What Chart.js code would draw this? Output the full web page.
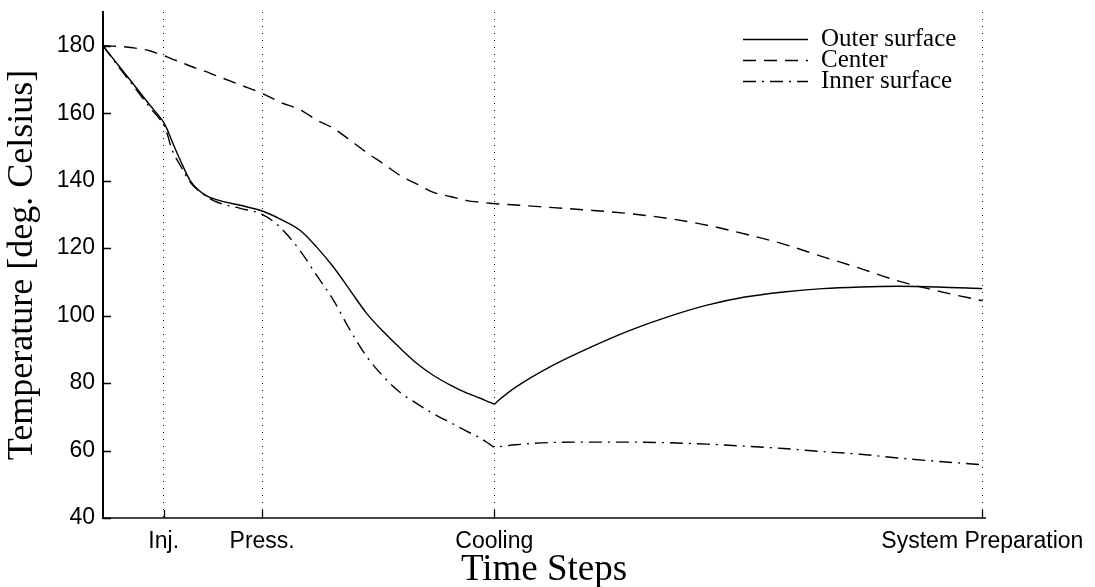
<!DOCTYPE html>
<html>
<head>
<meta charset="utf-8">
<script src="https://cdn.jsdelivr.net/npm/chart.js@4.4.0/dist/chart.umd.min.js"></script>
<style>
    html, body { margin: 0; padding: 0; background: #fff; }
    #wrap { width: 1095px; height: 587px; position: relative; }
</style>
</head>
<body>
<div id="wrap"><canvas id="temp-chart"></canvas></div>
<script>
// time axis, 0..100 of the cycle
const timeSteps = [0, 1.9, 3.4, 5.3, 6.6, 6.9, 7.3, 7.8, 8.8, 9.9, 11.4, 13.0, 15.6, 18.1, 20.1, 22.4, 24.3, 26.2, 28.1, 30.0, 31.9, 33.8, 35.7, 37.5, 39.5, 41.4, 42.9, 44.0, 44.5, 44.9, 46.9, 51.2, 55.6, 60.0, 64.3, 68.7, 73.0, 77.4, 81.8, 86.1, 90.4, 94.9, 100];
const outerSurface = [180, 173.7, 168.8, 162.5, 158.4, 157.3, 155.2, 152, 146, 140.1, 136.1, 134.3, 132.7, 131.0, 128.7, 125.3, 120.3, 114.4, 107.5, 100.6, 95.2, 90.3, 85.8, 82.4, 79.4, 77.0, 75.5, 74.3, 73.8, 74.7, 78.7, 85.3, 90.8, 95.7, 99.7, 103.1, 105.5, 107.0, 108.0, 108.5, 108.7, 108.5, 108.0];
const center = [180, 179.8, 179.4, 178.5, 177.3, 177.0, 176.7, 176.1, 175.2, 174.0, 172.6, 171.0, 168.4, 165.9, 163.3, 161.0, 158.0, 155.5, 152.0, 148.3, 145.0, 141.5, 139.0, 136.6, 135.3, 134.1, 133.6, 133.3, 133.2, 133.1, 132.8, 132.0, 131.2, 130.2, 128.8, 126.8, 124.2, 121.2, 117.5, 114.0, 110.3, 107.3, 104.4];
const innerSurface = [180, 173.3, 168.3, 161.8, 157.8, 156.6, 153.9, 149.5, 144.5, 139.6, 136.0, 133.6, 131.8, 130.0, 126.3, 119.3, 111.9, 104.6, 95.7, 87.8, 81.9, 77.2, 73.9, 71.0, 68.3, 65.7, 63.7, 61.8, 61.0, 61.1, 61.7, 62.4, 62.5, 62.5, 62.3, 61.9, 61.3, 60.6, 59.7, 58.9, 57.8, 56.8, 55.8];

const stepTicks = [6.9, 18.1, 44.5, 100];
const stepLabels = ["Inj.", "Press.", "Cooling", "System Preparation"];
const tempTicks = [40, 60, 80, 100, 120, 140, 160, 180];
const seriesNames = ["Outer surface", "Center", "Inner surface"];

function toPoints(values) {
    return timeSteps.map((t, i) => ({ x: t, y: values[i] }));
}

const tickFont = { family: '"Liberation Sans", Arial, sans-serif', size: 23 };
const serif = '"Liberation Serif", "Times New Roman", serif';

// matlab style tick marks pointing into the plot
const innerTicks = {
    id: "innerTicks",
    afterDraw(chart) {
        const { ctx, chartArea, scales } = chart;
        ctx.save();
        ctx.strokeStyle = "#000";
        ctx.lineWidth = 1.3;
        ctx.beginPath();
        scales.y.ticks.forEach((t) => {
            const y = Math.round(scales.y.getPixelForValue(t.value)) + 0.5;
            ctx.moveTo(chartArea.left, y);
            ctx.lineTo(chartArea.left + 8, y);
        });
        scales.x.ticks.forEach((t) => {
            const x = Math.round(scales.x.getPixelForValue(t.value)) + 0.5;
            ctx.moveTo(x, chartArea.bottom);
            ctx.lineTo(x, chartArea.bottom - 8);
        });
        ctx.stroke();
        ctx.restore();
    },
};

// legend with line samples (dashes shown like in the plot)
const lineLegend = {
    id: "lineLegend",
    afterDraw(chart) {
        const ctx = chart.ctx;
        ctx.save();
        ctx.font = "25px " + serif;
        ctx.textBaseline = "middle";
        ctx.fillStyle = "#000";
        chart.data.datasets.forEach((ds, i) => {
            const y = Math.round(39 + i * 21) + 0.5;
            ctx.strokeStyle = "#000";
            ctx.lineWidth = 1.3;
            ctx.setLineDash(ds.borderDash || []);
            ctx.beginPath();
            ctx.moveTo(743, y);
            ctx.lineTo(808, y);
            ctx.stroke();
            ctx.setLineDash([]);
            ctx.fillText(ds.label, 821, y);
        });
        ctx.restore();
    },
};

const lineStyle = {
    borderColor: "#000",
    borderWidth: 1.4,
    pointRadius: 0,
    tension: 0.4,
    cubicInterpolationMode: "monotone",
    fill: false,
};

const config = {
    type: "line",
    data: {
        datasets: [
            { label: seriesNames[0], data: toPoints(outerSurface), borderDash: [], ...lineStyle },
            { label: seriesNames[1], data: toPoints(center), borderDash: [13, 8], ...lineStyle },
            { label: seriesNames[2], data: toPoints(innerSurface), borderDash: [13, 6, 2, 6], ...lineStyle },
        ],
    },
    options: {
        responsive: true,
        maintainAspectRatio: false,
        animation: false,
        layout: { padding: { top: 12, right: 110, left: 0, bottom: 0 } },
        plugins: { legend: { display: false }, tooltip: { enabled: false } },
        scales: {
            x: {
                type: "linear",
                min: 0,
                max: 100.3,
                afterBuildTicks: (s) => { s.ticks = stepTicks.map((v) => ({ value: v })); },
                afterFit: (s) => {
                    s.height = 69;
                    s.paddingLeft = 0;
                    s.paddingRight = 0;
                },
                ticks: {
                    autoSkip: false,
                    maxRotation: 0,
                    padding: 10,
                    color: "#000",
                    font: tickFont,
                    callback: (v, i) => stepLabels[i],
                },
                grid: { color: "#000", lineWidth: 1, drawTicks: false },
                border: { color: "#444", width: 2, dash: [1, 6] },
                title: {
                    display: true,
                    text: "Time Steps",
                    color: "#000",
                    font: { family: serif, size: 37, lineHeight: 1 },
                    padding: { top: 0, bottom: -2 },
                },
            },
            y: {
                type: "linear",
                min: 40,
                max: 190,
                afterBuildTicks: (s) => { s.ticks = tempTicks.map((v) => ({ value: v })); },
                afterFit: (s) => {
                    s.width = 103;
                    s.paddingTop = 0;
                    s.paddingBottom = 0;
                },
                ticks: { padding: 8, color: "#000", font: tickFont },
                grid: { display: false, drawTicks: false },
                border: { color: "#000", width: 2 },
                title: {
                    display: true,
                    text: "Temperature [deg. Celsius]",
                    color: "#000",
                    font: { family: serif, size: 36, lineHeight: 1 },
                    padding: { top: 5, bottom: 0 },
                },
            },
        },
    },
    plugins: [innerTicks, lineLegend],
};

new Chart(document.querySelector("#temp-chart"), config);
</script>
</body>
</html>
